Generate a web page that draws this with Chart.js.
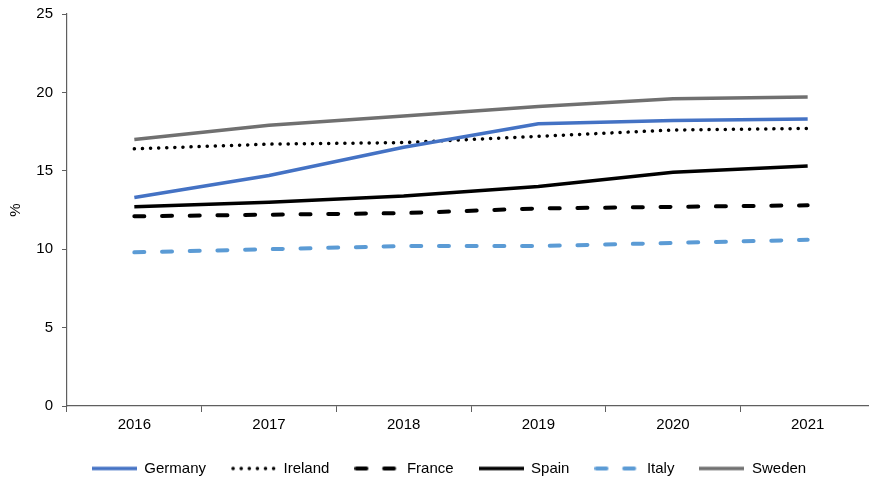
<!DOCTYPE html>
<html>
<head>
<meta charset="utf-8">
<script src="https://cdn.jsdelivr.net/npm/chart.js@4/dist/chart.umd.min.js"></script>
<style>
  html, body { margin: 0; padding: 0; background: #fff; overflow: hidden; }
  #wrap { width: 875px; height: 481px; position: relative; }
</style>
</head>
<body>
<div id="wrap"><canvas id="c"></canvas></div>
<script>
const years = ['2016', '2017', '2018', '2019', '2020', '2021'];
const germany = [13.3, 14.7, 16.5, 18.0, 18.2, 18.3];
const ireland = [16.4, 16.7, 16.8, 17.2, 17.6, 17.7];
const france  = [12.1, 12.2, 12.3, 12.6, 12.7, 12.8];
const spain   = [12.7, 13.0, 13.4, 14.0, 14.9, 15.3];
const italy   = [9.8, 10.0, 10.2, 10.2, 10.4, 10.6];
const sweden  = [17.0, 17.9, 18.5, 19.1, 19.6, 19.7];
const yTicks  = [0, 5, 10, 15, 20, 25];

const FONT = { family: 'Liberation Sans, Arial, sans-serif', size: 15 };
const AXIS = '#5f5f5f';

// Small line sample used as the legend symbol, drawn with the series' own stroke.
function sample(color, width, dash, cap) {
  const cv = document.createElement('canvas');
  cv.width = 45; cv.height = 8;
  const g = cv.getContext('2d');
  g.strokeStyle = color;
  g.lineWidth = width;
  g.lineCap = cap;
  g.setLineDash(dash);
  g.beginPath();
  const inset = cap === 'round' ? 2 : 0;
  g.moveTo(inset, 4);
  g.lineTo(45 - inset, 4);
  g.stroke();
  return cv;
}

function series(label, data, color, width, dash, cap) {
  return {
    label, data,
    borderColor: color, backgroundColor: color,
    borderWidth: width, borderDash: dash, borderCapStyle: cap,
    pointStyle: sample(color, width, dash, cap),
    pointRadius: 0, pointHoverRadius: 0, tension: 0, fill: false
  };
}

// Nudge the legend row a little lower and to the right of the default centre.
const legendNudge = {
  id: 'legendNudge',
  afterLayout(chart) {
    const lg = chart.legend;
    if (!lg) return;
    lg.top += 5; lg.bottom += 5;
    lg.left += 23;
  }
};

new Chart(document.getElementById('c'), {
  type: 'line',
  data: {
    labels: years,
    datasets: [
      series('Germany', germany, '#4472C4', 3.5, [], 'butt'),
      series('Ireland', ireland, '#000000', 3.5, [0.1, 8], 'round'),
      series('France', france, '#000000', 4, [10, 17.7], 'round'),
      series('Spain', spain, '#000000', 3.5, [], 'butt'),
      series('Italy', italy, '#5B9BD5', 4, [10, 17.7], 'round'),
      series('Sweden', sweden, '#707070', 3.5, [], 'butt')
    ]
  },
  plugins: [legendNudge],
  options: {
    responsive: true,
    maintainAspectRatio: false,
    animation: false,
    layout: { padding: { top: 14, right: 0, left: 0, bottom: 0 } },
    plugins: {
      tooltip: { enabled: false },
      legend: {
        position: 'bottom',
        labels: {
          usePointStyle: true,
          pointStyleWidth: 45,
          boxWidth: 45,
          boxHeight: 8,
          padding: 25,
          color: '#000',
          font: FONT
        }
      }
    },
    scales: {
      x: {
        offset: true,
        grid: { offset: true, drawOnChartArea: false, drawTicks: true, tickLength: 6, color: AXIS },
        border: { color: AXIS, width: 1.2 },
        ticks: { color: '#000', font: FONT, padding: 4, maxRotation: 0 },
        afterFit(scale) { scale.height = 25; }
      },
      y: {
        min: 0, max: 25,
        afterBuildTicks(scale) { scale.ticks = yTicks.map(v => ({ value: v })); },
        grid: { drawOnChartArea: false, drawTicks: true, tickLength: 5, color: AXIS },
        border: { color: AXIS, width: 1.2 },
        ticks: { color: '#000', font: FONT, padding: 9 },
        title: { display: true, text: '%', color: '#000', font: FONT, padding: { top: 7, bottom: 0 } },
        afterFit(scale) {
          scale.width = 67;
          scale.paddingTop = 0;
          scale.paddingBottom = 0;
        }
      }
    }
  }
});
</script>
</body>
</html>
